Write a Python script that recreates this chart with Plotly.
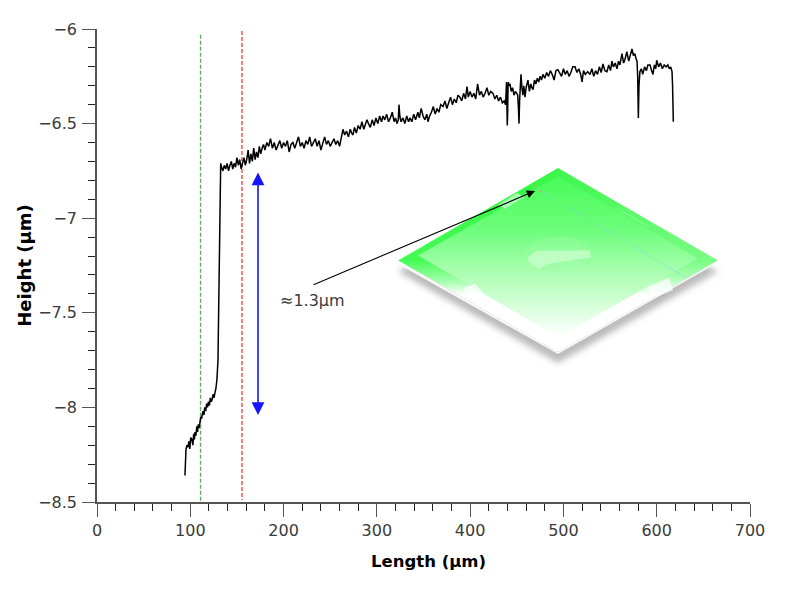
import plotly.graph_objects as go
from urllib.parse import quote

# profile, um
length = [
    94.3, 94.5, 95.0, 95.4, 96.5, 97.5, 98.5, 99.5, 100.5, 101.8,
    102.8, 103.6, 104.5, 105.0, 106.0, 107.0, 107.8, 108.6, 109.5, 110.4,
    111.2, 112.0, 112.8, 113.6, 114.6, 115.5, 116.5, 117.5, 118.5, 119.5,
    120.5, 121.5, 122.5, 123.3, 124.5, 125.5, 126.5, 127.5, 128.6, 129.2,
    129.7, 130.1, 130.5, 130.9, 131.3, 131.7, 132.0, 132.6, 133.5, 135.0,
    136.5, 138.0, 139.5, 141.0, 142.5, 144.0, 145.5, 147.0, 148.5, 150.0,
    151.5, 153.0, 154.5, 156.0, 157.5, 159.0, 160.5, 162.0, 163.5, 165.0,
    166.5, 168.0, 169.5, 171.0, 172.5, 174.0, 175.5, 177.0, 178.5, 180.0,
    182.0, 184.0, 186.0, 188.0, 190.0, 192.0, 194.0, 196.0, 198.0, 200.0,
    202.0, 204.0, 206.0, 208.0, 210.0, 212.0, 214.0, 216.0, 218.0, 220.0,
    222.0, 224.0, 226.0, 228.0, 230.0, 232.0, 234.0, 236.0, 238.0, 240.0,
    242.0, 244.0, 246.0, 248.0, 250.0, 252.0, 254.0, 256.0, 258.0, 260.0,
    262.0, 263.7, 265.5, 267.5, 269.5, 271.5, 273.0, 274.4, 276.0, 278.0,
    280.0, 282.0, 284.0, 286.0, 288.0, 289.4, 291.0, 293.0, 295.0, 297.0,
    299.0, 301.0, 303.0, 305.0, 306.6, 308.5, 310.5, 312.5, 314.5, 316.5,
    318.5, 320.0, 321.6, 323.0, 323.7, 324.6, 326.0, 328.0, 330.0, 332.0,
    334.0, 335.5, 337.5, 339.5, 341.5, 343.0, 344.0, 345.5, 347.5, 349.5,
    351.5, 353.5, 354.8, 356.5, 358.5, 360.5, 362.5, 364.5, 366.5, 368.5,
    371.0, 373.0, 375.0, 377.0, 379.0, 381.0, 383.0, 385.0, 387.0, 389.0,
    391.0, 393.0, 395.0, 396.6, 398.0, 400.0, 402.0, 404.0, 406.0, 408.0,
    410.0, 412.0, 414.0, 416.0, 418.0, 420.0, 422.0, 424.5, 426.5, 428.5,
    430.5, 432.5, 434.5, 436.5, 438.0, 439.0, 439.4, 439.8, 440.2, 440.6,
    441.0, 441.5, 442.7, 444.0, 445.5, 447.0, 448.5, 450.0, 451.0, 451.8,
    452.4, 453.0, 453.8, 454.5, 455.5, 456.5, 457.5, 458.8, 460.0, 461.0,
    462.0, 463.5, 465.0, 466.2, 467.4, 469.0, 470.5, 472.0, 473.5, 475.0,
    476.5, 478.0, 480.0, 482.0, 484.0, 486.0, 488.0, 490.0, 492.0, 494.0,
    496.0, 498.0, 500.0, 502.0, 504.0, 506.0, 508.0, 510.0, 512.4, 514.5,
    516.5, 518.5, 520.0, 521.5, 523.5, 526.0, 528.5, 530.5, 532.5, 534.5,
    536.5, 538.5, 540.5, 542.4, 544.5, 546.7, 548.5, 550.5, 552.0, 553.5,
    555.5, 557.4, 559.0, 560.5, 562.8, 564.5, 566.0, 568.0, 570.0, 572.0,
    573.5, 575.0, 576.5, 578.0, 578.9, 579.6, 580.3, 581.0, 582.0, 583.5,
    585.0, 587.0, 589.0, 590.5, 592.8, 594.5, 596.0, 597.5, 599.0, 600.0,
    602.0, 604.0, 606.0, 608.0, 610.0, 612.0, 613.5, 615.0, 616.4, 617.0,
    617.4, 617.8,
]
height = [
    -8.36, -8.30, -8.26, -8.22, -8.20, -8.21, -8.18, -8.22, -8.16, -8.17,
    -8.20, -8.14, -8.17, -8.13, -8.15, -8.10, -8.13, -8.09, -8.11, -8.08,
    -8.05, -8.06, -8.02, -8.02, -8.04, -8.00, -8.02, -7.98, -8.00, -7.97,
    -7.99, -7.95, -7.97, -7.96, -7.93, -7.95, -7.92, -7.90, -7.85, -7.80,
    -7.75, -7.60, -7.42, -7.24, -7.05, -6.90, -6.78, -6.71, -6.73, -6.75,
    -6.72, -6.74, -6.71, -6.75, -6.72, -6.70, -6.74, -6.71, -6.73, -6.68,
    -6.72, -6.69, -6.74, -6.71, -6.68, -6.72, -6.69, -6.64, -6.71, -6.66,
    -6.70, -6.63, -6.69, -6.65, -6.68, -6.62, -6.66, -6.63, -6.61, -6.64,
    -6.60, -6.62, -6.58, -6.63, -6.60, -6.64, -6.61, -6.59, -6.63, -6.60,
    -6.62, -6.59, -6.65, -6.61, -6.60, -6.63, -6.60, -6.57, -6.62, -6.60,
    -6.63, -6.59, -6.61, -6.57, -6.62, -6.60, -6.58, -6.62, -6.59, -6.64,
    -6.60, -6.57, -6.61, -6.59, -6.62, -6.60, -6.58, -6.61, -6.59, -6.62,
    -6.58, -6.53, -6.56, -6.54, -6.57, -6.53, -6.55, -6.56, -6.52, -6.55,
    -6.51, -6.53, -6.49, -6.53, -6.50, -6.48, -6.50, -6.52, -6.48, -6.51,
    -6.47, -6.50, -6.46, -6.49, -6.46, -6.48, -6.45, -6.49, -6.47, -6.44,
    -6.49, -6.47, -6.50, -6.48, -6.40, -6.46, -6.49, -6.47, -6.50, -6.46,
    -6.49, -6.47, -6.49, -6.45, -6.48, -6.46, -6.44, -6.47, -6.42, -6.46,
    -6.48, -6.45, -6.49, -6.46, -6.44, -6.41, -6.45, -6.42, -6.44, -6.40,
    -6.41, -6.38, -6.42, -6.39, -6.36, -6.40, -6.37, -6.39, -6.35, -6.36,
    -6.38, -6.34, -6.37, -6.305, -6.36, -6.33, -6.36, -6.34, -6.37, -6.29,
    -6.35, -6.33, -6.36, -6.34, -6.31, -6.35, -6.33, -6.34, -6.37, -6.35,
    -6.38, -6.36, -6.39, -6.38, -6.40, -6.28, -6.40, -6.51, -6.45, -6.30,
    -6.28, -6.30, -6.29, -6.33, -6.31, -6.35, -6.33, -6.34, -6.35, -6.42,
    -6.50, -6.38, -6.28, -6.24, -6.31, -6.35, -6.30, -6.36, -6.31, -6.28,
    -6.27, -6.33, -6.29, -6.31, -6.32, -6.27, -6.29, -6.26, -6.28, -6.25,
    -6.27, -6.24, -6.26, -6.23, -6.25, -6.22, -6.24, -6.27, -6.22, -6.215,
    -6.23, -6.25, -6.21, -6.24, -6.22, -6.25, -6.23, -6.20, -6.20, -6.23,
    -6.21, -6.24, -6.28, -6.22, -6.24, -6.225, -6.24, -6.21, -6.25, -6.22,
    -6.24, -6.20, -6.23, -6.185, -6.22, -6.225, -6.19, -6.22, -6.17, -6.20,
    -6.18, -6.21, -6.17, -6.19, -6.13, -6.18, -6.16, -6.12, -6.17, -6.13,
    -6.105, -6.14, -6.13, -6.16, -6.17, -6.25, -6.47, -6.30, -6.225, -6.21,
    -6.24, -6.20, -6.22, -6.19, -6.19, -6.22, -6.24, -6.19, -6.21, -6.165,
    -6.20, -6.18, -6.21, -6.19, -6.20, -6.19, -6.21, -6.20, -6.225, -6.30,
    -6.42, -6.49,
]

# dashed markers, the blue double arrow and the black pointer
green_x = [111, 111]
green_y = [-6.03, -8.5]
red_x = [155.4, 155.4]
red_y = [-6.01, -8.49]
step_x = 172.6
step_top = -6.75
step_bottom = -8.04
pointer_from = (230.5, -7.355)
pointer_to = (469.5, -6.856)
step_label = "≈1.3µm"
step_label_at = (194, -7.435)

x_ticks = [0, 100, 200, 300, 400, 500, 600, 700]
y_ticks = [-6, -6.5, -7, -7.5, -8, -8.5]

AXIS = "#555555"
TEXT = "#3a3a3a"
FONT = "DejaVu Sans"

# the little rendered die, viewBox is in page pixels
die_svg = """<svg xmlns="http://www.w3.org/2000/svg" width="340" height="210" viewBox="390 160 340 210">
<defs>
<linearGradient id="outer" gradientUnits="userSpaceOnUse" x1="0" y1="167" x2="0" y2="352">
<stop offset="0" stop-color="#30f640"/><stop offset="0.5" stop-color="#44fb54"/>
<stop offset="0.62" stop-color="#a8ffb0"/><stop offset="0.69" stop-color="#ffffff"/><stop offset="1" stop-color="#ffffff"/>
</linearGradient>
<linearGradient id="fade" gradientUnits="userSpaceOnUse" x1="520" y1="0" x2="718" y2="0">
<stop offset="0" stop-color="#ffffff" stop-opacity="0"/><stop offset="1" stop-color="#ffffff" stop-opacity="0.3"/>
</linearGradient>
<linearGradient id="inner" gradientUnits="userSpaceOnUse" x1="0" y1="172" x2="0" y2="337">
<stop offset="0" stop-color="#46fb56"/><stop offset="0.35" stop-color="#6efd7c"/>
<stop offset="0.65" stop-color="#b4feba"/><stop offset="1" stop-color="#ffffff"/>
</linearGradient>
<filter id="blur" x="-10%" y="-10%" width="120%" height="120%"><feGaussianBlur stdDeviation="3"/></filter>
</defs>
<polygon points="398,271 558,363 718,271 558,180" fill="#bbbbbb" filter="url(#blur)"/>
<polygon points="558,167 718,260 558,352 398,260" fill="url(#outer)"/>
<polygon points="558,167 718,260 558,352 398,260" fill="url(#fade)"/>
<polygon points="398,260 558,352 718,260 718,262 558,354 399,264" fill="#f8f8f8"/>
<polygon points="558,175 698,258 558,337 418,255" fill="url(#inner)"/>
<polygon points="498,204 517,192 524,196 505,208" fill="#a8fdb0"/>
<polygon points="612,205 632,215 652,228 640,222" fill="#7cfc88"/>
<polygon points="463,288 475,283 487,297 476,303" fill="#ffffff" fill-opacity="0.7"/>
<polygon points="647,287 669,277 673,290 654,297" fill="#ffffff" fill-opacity="0.7"/>
<ellipse cx="558" cy="253" rx="33" ry="17" fill="#9efca6" fill-opacity="0.35"/>
<path d="M527 257 L537 250 L590 250 L591 257 L557 262 Q545 263 540 268 Q530 266 527 257 Z" fill="#c8fecc" fill-opacity="0.8"/>
<line x1="533" y1="185" x2="687" y2="278" stroke="#7fd8d8" stroke-width="0.8" stroke-dasharray="1.5 1"/>
<circle cx="534" cy="185" r="0.9" fill="#e0a020"/><circle cx="541" cy="190" r="0.9" fill="#e0a020"/>
</svg>"""

fig = go.Figure()
fig.add_trace(go.Scatter(x=green_x, y=green_y, mode="lines",
                         line=dict(color="#62ad62", width=1.4, dash="4px,2px")))
fig.add_trace(go.Scatter(x=red_x, y=red_y, mode="lines",
                         line=dict(color="#ff4545", width=1.4, dash="4px,2px")))
fig.add_trace(go.Scatter(x=length, y=height, mode="lines",
                         line=dict(color="black", width=1.5)))

# page has an 8px body margin, so figure and margins are 8px short of the window
fig.add_layout_image(dict(
    source="data:image/svg+xml;charset=utf-8," + quote(die_svg),
    xref="paper", yref="paper", xanchor="left", yanchor="top",
    x=(390 - 97) / 653, y=1 - (160 - 27) / 476,
    sizex=340 / 653, sizey=210 / 476,
    sizing="stretch", layer="below",
))

fig.add_annotation(x=step_x, y=step_bottom, ax=step_x, ay=step_top,
                   xref="x", yref="y", axref="x", ayref="y", text="",
                   showarrow=True, arrowside="end+start", arrowhead=2,
                   arrowsize=1.6, arrowwidth=1.6, arrowcolor="#1414ff")
fig.add_annotation(x=pointer_to[0], y=pointer_to[1], ax=pointer_from[0], ay=pointer_from[1],
                   xref="x", yref="y", axref="x", ayref="y", text="",
                   showarrow=True, arrowhead=2, arrowsize=1.5, arrowwidth=1.1,
                   arrowcolor="black")
fig.add_annotation(x=step_label_at[0], y=step_label_at[1], xref="x", yref="y",
                   text=step_label, showarrow=False, xanchor="left", yanchor="middle",
                   font=dict(family=FONT, size=16, color=TEXT))
# title sits a little right of the axis centre in the reference
fig.add_annotation(x=(428 - 97) / 653, y=-(563 - 503) / 476, xref="paper", yref="paper",
                   text="Length (µm)", showarrow=False, xanchor="center", yanchor="middle",
                   font=dict(family=FONT, size=16.5, color="black", weight="bold"))

fig.update_xaxes(
    range=[0, 700], tickmode="array", tickvals=x_ticks, ticks="outside", ticklen=13,
    tickwidth=1, tickcolor=AXIS, showline=True, linecolor=AXIS, linewidth=1.5,
    showgrid=False, zeroline=False,
    tickfont=dict(family=FONT, size=16, color=TEXT),
    minor=dict(dtick=20, tick0=0, ticks="outside", ticklen=7, tickwidth=1,
               tickcolor="#222222", showgrid=False),
)
fig.update_yaxes(
    range=[-8.5, -6], tickmode="array", tickvals=y_ticks, ticktext=["−6", "−6.5", "−7", "−7.5", "−8", "−8.5"],
    ticks="outside", ticklen=13, tickwidth=1, tickcolor=AXIS, showline=True,
    linecolor=AXIS, linewidth=1.5, showgrid=False, zeroline=False, ticklabelstandoff=2,
    tickfont=dict(family=FONT, size=16, color=TEXT),
    minor=dict(dtick=0.1, tick0=-6, ticks="outside", ticklen=7, tickwidth=1,
               tickcolor="#222222", showgrid=False),
    title=dict(text="Height (µm)", standoff=2,
               font=dict(family=FONT, size=18, color="black", weight="bold")),
)
fig.update_layout(
    width=786, height=587, showlegend=False,
    margin=dict(l=89, r=44, t=18.5, b=92.5),
    plot_bgcolor="white", paper_bgcolor="white",
)

fig.write_html("out.html")
